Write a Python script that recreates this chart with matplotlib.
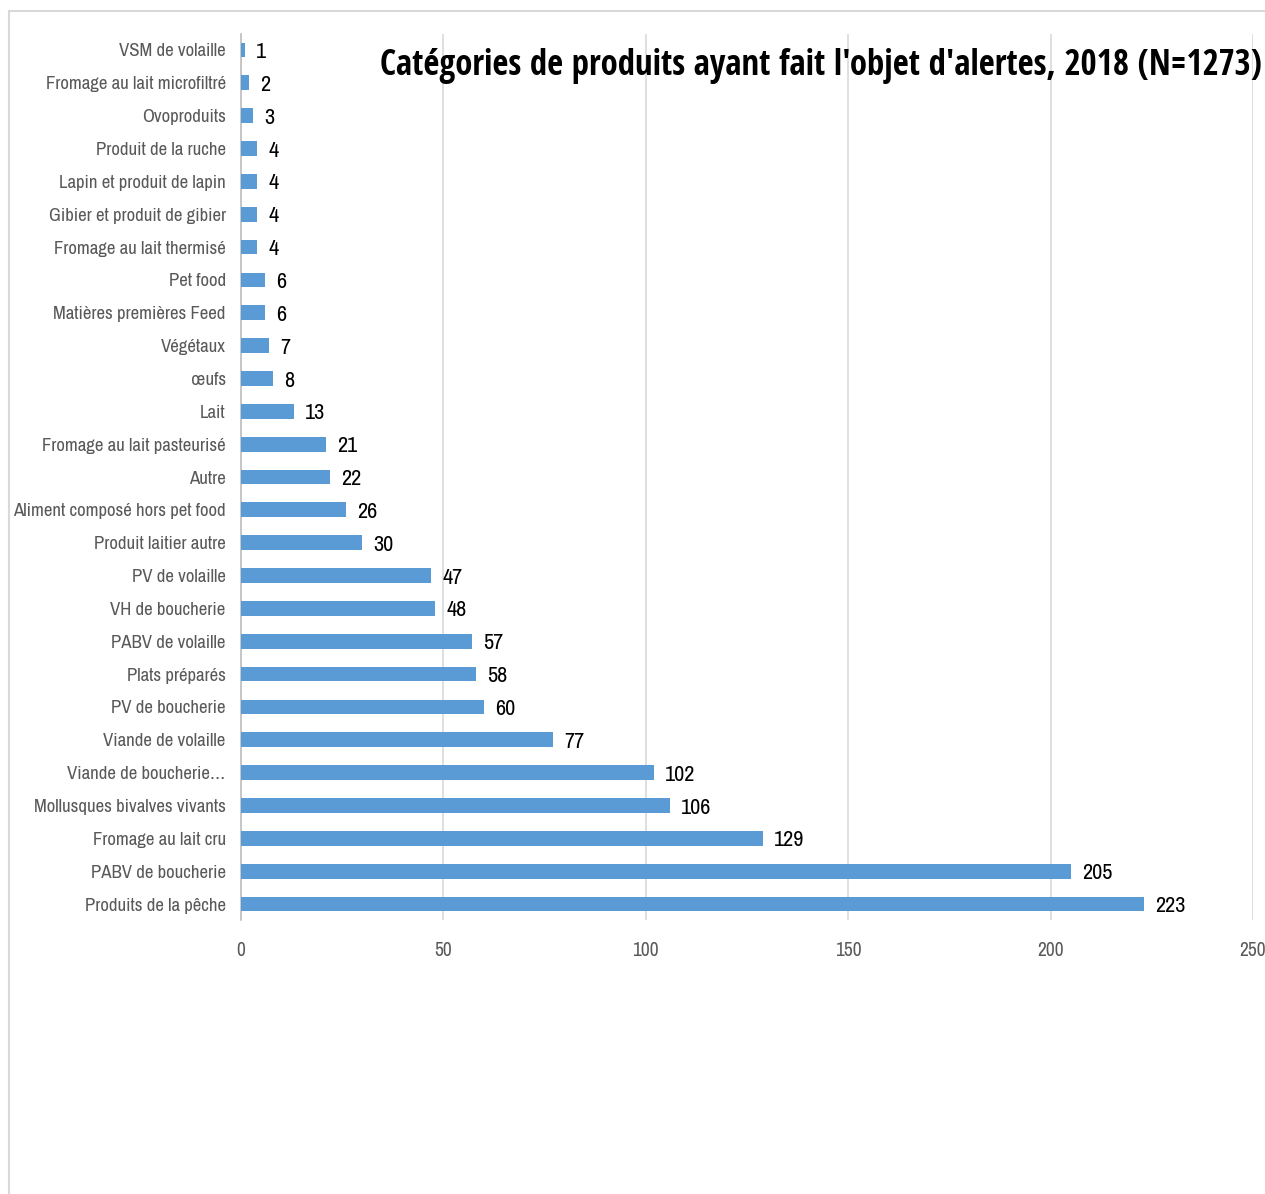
import matplotlib
matplotlib.use('Agg')
import matplotlib.pyplot as plt
import numpy as np
from matplotlib.patches import Rectangle

# alert counts per product category (top of the chart first)
categories = [
    "VSM de volaille", "Fromage au lait microfiltré", "Ovoproduits",
    "Produit de la ruche", "Lapin et produit de lapin", "Gibier et produit de gibier",
    "Fromage au lait thermisé", "Pet food", "Matières premières Feed", "Végétaux",
    "œufs", "Lait", "Fromage au lait pasteurisé", "Autre",
    "Aliment composé hors pet food", "Produit laitier autre", "PV de volaille",
    "VH de boucherie", "PABV de volaille", "Plats préparés", "PV de boucherie",
    "Viande de volaille", "Viande de boucherie…", "Mollusques bivalves vivants",
    "Fromage au lait cru", "PABV de boucherie", "Produits de la pêche",
]
counts = [1, 2, 3, 4, 4, 4, 4, 6, 6, 7, 8, 13, 21, 22, 26, 30, 47, 48, 57, 58,
          60, 77, 102, 106, 129, 205, 223]
x_ticks = [0, 50, 100, 150, 200, 250]
title = "Catégories de produits ayant fait l'objet d'alertes, 2018 (N=1273)"

plt.rcParams['font.family'] = ['Archivo Narrow', 'DejaVu Sans']

fig = plt.figure(figsize=(12.65, 11.94), dpi=100, facecolor='white')
ax = fig.add_axes([0.1905, 0.2291, 0.8000, 0.7428])

y = np.arange(len(categories))[::-1]
ax.barh(y, counts, height=0.45, color='#5B9BD5', zorder=3)
for yi, c in zip(y, counts):
    ax.annotate(str(c), (c, yi), xytext=(8, -1.5), textcoords='offset points',
                ha='left', va='center', fontsize=16, color='black')

ax.set_xlim(0, 250)
ax.set_ylim(-0.5, len(categories) - 0.5)
ax.set_xticks(x_ticks)
ax.set_yticks(y)
ax.set_yticklabels(categories)
ax.tick_params(axis='y', length=0, pad=11, labelsize=13.5, labelcolor='#595959')
ax.tick_params(axis='x', length=0, pad=15, labelsize=14, labelcolor='#595959')
ax.grid(axis='x', color='#D9D9D9', linewidth=1.2, zorder=0)
for side in ['top', 'right', 'bottom']:
    ax.spines[side].set_visible(False)
ax.spines['left'].set_color('#BFBFBF')
ax.spines['left'].set_linewidth(1.2)

fig.text(0.300, 0.945, title, fontsize=25, fontweight='bold', ha='left', va='center',
         family=['Open Sans Condensed', 'DejaVu Sans'])

# chart frame, running off the right and bottom edges
fig.patches.append(Rectangle((0.0071, -0.1), 1.2, 0.9908 + 0.1, transform=fig.transFigure,
                             fill=False, edgecolor='#D9D9D9', linewidth=1.5))

fig.savefig('out.png', dpi=100)
